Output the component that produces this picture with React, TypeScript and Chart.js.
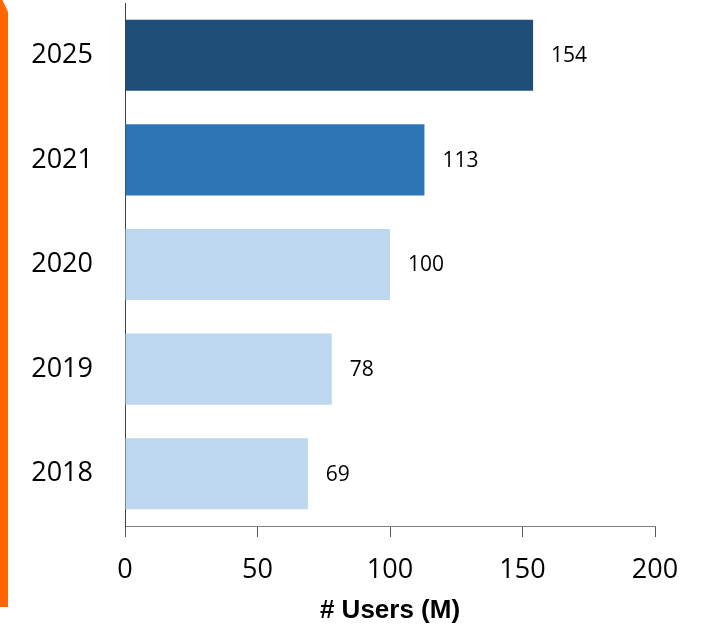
import React, { useEffect, useRef } from "react";
import { Chart, registerables } from "chart.js";

Chart.register(...registerables);

const years = ["2025", "2021", "2020", "2019", "2018"];
const users = [154, 113, 100, 78, 69];
const barColors = ["#1F4E79", "#2E75B6", "#BDD7EE", "#BDD7EE", "#BDD7EE"];
const xTicks = [0, 50, 100, 150, 200];
const axisTitle = "# Users (M)";

const valueLabels = {
  id: "valueLabels",
  afterDatasetsDraw(chart: any) {
    const { ctx } = chart;
    const meta = chart.getDatasetMeta(0);
    ctx.save();
    ctx.font = '21px "Open Sans"';
    ctx.fillStyle = "#000000";
    ctx.textAlign = "left";
    ctx.textBaseline = "middle";
    meta.data.forEach((bar: any, i: number) => {
      ctx.fillText(String(users[i]), bar.x + 18, bar.y + 1);
    });
    ctx.restore();
  },
};

export default function App() {
  const ref = useRef<HTMLCanvasElement>(null);
  useEffect(() => {
    if (!ref.current) return;
    const chart = new Chart(ref.current, {
      type: "bar",
      data: {
        labels: years,
        datasets: [
          {
            data: users,
            backgroundColor: barColors,
            borderWidth: 0,
            categoryPercentage: 0.68,
            barPercentage: 1,
          },
        ],
      },
      options: {
        indexAxis: "y",
        animation: false,
        responsive: false,
        events: [],
        layout: { padding: { left: 0, right: 52, top: 3, bottom: 0 } },
        plugins: {
          legend: { display: false },
          tooltip: { enabled: false },
        },
        scales: {
          x: {
            min: 0,
            max: 200,
            afterBuildTicks: (scale: any) => {
              scale.ticks = xTicks.map((v) => ({ value: v }));
            },
            afterFit: (scale: any) => {
              scale.height = 100;
              scale.paddingLeft = 0;
              scale.paddingRight = 0;
            },
            grid: {
              drawOnChartArea: false,
              drawTicks: true,
              tickLength: 11,
              color: "#595959",
            },
            border: { display: true, color: "#7f7f7f", width: 1 },
            ticks: {
              color: "#000000",
              font: { family: '"Open Sans"', size: 27 },
              padding: 17,
              maxRotation: 0,
            },
            title: {
              display: true,
              text: axisTitle,
              color: "#000000",
              font: { family: '"Liberation Sans", Arial', size: 26, weight: "bold" },
              padding: { top: 0, bottom: 0 },
            },
          },
          y: {
            afterFit: (scale: any) => {
              scale.width = 125;
              scale.paddingTop = 0;
              scale.paddingBottom = 0;
            },
            grid: { display: false, drawTicks: false },
            border: { display: true, color: "#404040", width: 1 },
            ticks: {
              color: "#000000",
              font: { family: '"Open Sans"', size: 27 },
              padding: 32,
            },
          },
        },
      },
      plugins: [valueLabels],
    });
    return () => chart.destroy();
  }, []);

  return (
    <div style={{ position: "absolute", left: 0, top: 0, width: 707, height: 626, background: "#ffffff" }}>
      <div
        style={{
          position: "absolute",
          left: 0,
          top: 0,
          width: 8,
          height: 607,
          background: "#FF6600",
          clipPath: "polygon(0 0, 30% 0, 100% 12px, 100% 100%, 0 100%)",
        }}
      />
      <canvas
        ref={ref}
        width={707}
        height={626}
        style={{ position: "absolute", left: 0, top: 0, width: 707, height: 626 }}
      />
    </div>
  );
}
